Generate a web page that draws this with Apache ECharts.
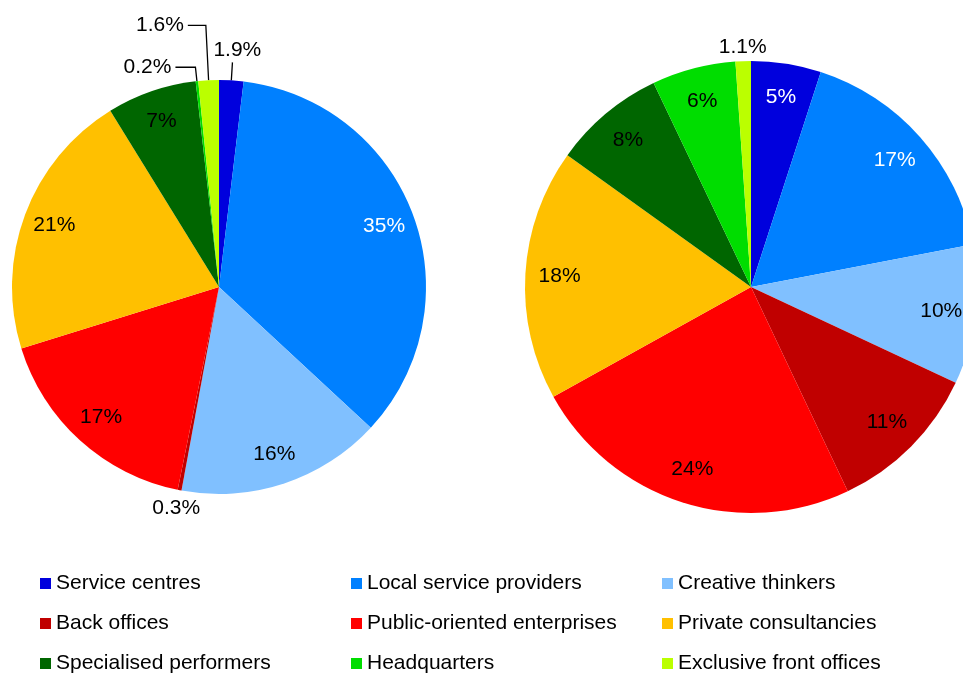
<!DOCTYPE html>
<html>
<head>
<meta charset="utf-8">
<script src="https://cdn.jsdelivr.net/npm/echarts@6/dist/echarts.min.js"></script>
<style>
	html, body { margin: 0; padding: 0; background: #fff; }
	#chart { width: 963px; height: 675px; }
</style>
</head>
<body>
<div id="chart"></div>
<script>
const categories = [
	'Service centres', 'Local service providers', 'Creative thinkers',
	'Back offices', 'Public-oriented enterprises', 'Private consultancies',
	'Specialised performers', 'Headquarters', 'Exclusive front offices'
]
const leftValues = [1.9, 35, 16, 0.3, 17, 21, 7, 0.2, 1.6]
const rightValues = [5, 17, 10, 11, 24, 18, 8, 6, 1.1]

const colors = ['#0000dd', '#0080ff', '#80c0ff', '#c00000', '#ff0000', '#ffc000', '#006600', '#00dd00', '#bbff00']
const font = 'Liberation Sans, Arial, sans-serif'
const fs = 21

// small slices get an outside label; the rest sit inside near the rim
const outsideLabels = {
	left: {
		0: { length: 18, length2: 0, line: true, dist: -19, above: true },
		3: { length: 18, length2: 0, line: false, dist: -24 },
		7: { length: 14, length2: 20, line: true, dist: 4 },
		8: { length: 55, length2: 18, line: true, dist: 4 }
	},
	right: {
		8: { length: 14, length2: 0, line: false, dist: -24 }
	}
}

const mainData = (values, side) => values.map((v, i) => {
	const o = outsideLabels[side][i]
	const item = { name: categories[i], value: v, itemStyle: { color: colors[i] } }
	if (o) {
		item.label = {
			show: true, position: 'outside',
			// an empty second line lifts the text above the end of its leader line
			formatter: o.above ? '{c}%\n ' : '{c}%',
			fontSize: fs, fontFamily: font, color: '#000', lineHeight: 24,
			distanceToLabelLine: o.dist
		}
		item.labelLine = { show: o.line, length: o.length, length2: o.length2, smooth: false, lineStyle: { color: '#000', width: 1.3 } }
	}
	return item
})

const ringData = (values, side) => values.map((v, i) => ({
	name: categories[i],
	value: v,
	label: {
		show: !outsideLabels[side][i],
		color: i < 2 ? '#fff' : '#000'
	}
}))

const pie = (values, side, center, r) => [
	{
		type: 'pie',
		center: center,
		radius: [0, r],
		startAngle: 90,
		clockwise: true,
		avoidLabelOverlap: false,
		label: { show: false },
		labelLine: { show: false },
		emphasis: { disabled: true },
		data: mainData(values, side)
	},
	{
		type: 'pie',
		center: center,
		radius: [r * 0.67, r],
		startAngle: 90,
		clockwise: true,
		silent: true,
		itemStyle: { color: 'rgba(0,0,0,0)' },
		label: { position: 'inside', formatter: '{c}%', fontSize: fs, fontFamily: font },
		labelLine: { show: false },
		emphasis: { disabled: true },
		data: ringData(values, side)
	}
]

const chart = echarts.init(document.getElementById('chart'))
chart.setOption({
	animation: false,
	legend: [0, 1, 2].map(col => ({
		orient: 'vertical',
		left: [40, 351, 662][col],
		top: 573,
		height: 102,
		padding: 0,
		data: [categories[col], categories[col + 3], categories[col + 6]],
		icon: 'rect',
		itemWidth: 11,
		itemHeight: 11,
		itemGap: 19,
		selectedMode: false,
		textStyle: { fontSize: fs, lineHeight: 21, fontFamily: font, color: '#000' }
	})),
	series: [
		...pie(leftValues, 'left', [219, 287], 207),
		...pie(rightValues, 'right', [751, 287], 226)
	]
})
</script>
</body>
</html>
